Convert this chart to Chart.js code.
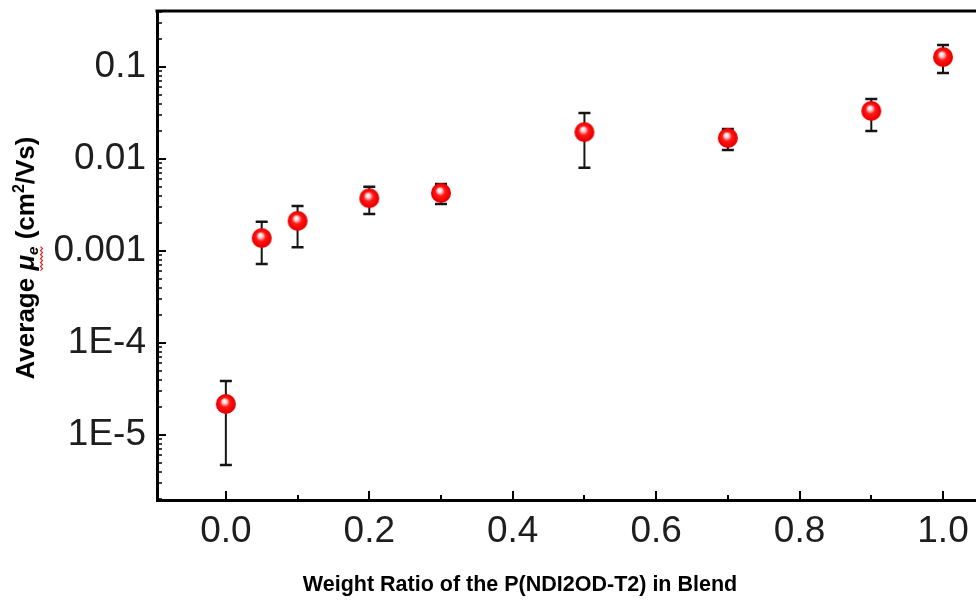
<!DOCTYPE html>
<html>
<head>
<meta charset="utf-8">
<script src="https://cdn.jsdelivr.net/npm/chart.js@4/dist/chart.umd.min.js"></script>
<style>
body{margin:0;background:#fff;}
#wrap{width:976px;height:602px;position:relative;}
</style>
</head>
<body>
<div id="wrap"><canvas id="chartMobility" width="976" height="602"></canvas></div>
<script>
// weight ratio of P(NDI2OD-T2) in the blend
const ratios = [0, 0.05, 0.1, 0.2, 0.3, 0.5, 0.7, 0.9, 1.0]
// average electron mobility, cm2/Vs
const mobility = [2.17e-5, 1.38e-3, 2.12e-3, 3.74e-3, 4.27e-3, 0.0196, 0.0169, 0.0333, 0.128]
const errUpper = [3.86e-5, 2.07e-3, 3.08e-3, 5.0e-3, 5.35e-3, 0.0316, 0.0212, 0.0449, 0.173]
const errLower = [4.72e-6, 7.2e-4, 1.1e-3, 2.52e-3, 3.24e-3, 0.008, 0.0125, 0.0201, 0.086]

const xTicks = [0, 0.2, 0.4, 0.6, 0.8, 1.0]
const xMinorTicks = [0.1, 0.3, 0.5, 0.7, 0.9]
const yTicks = [1e-5, 1e-4, 1e-3, 1e-2, 1e-1]
const yTickLabels = ['1E-5', '1E-4', '0.001', '0.01', '0.1']

const FONT = "'Liberation Sans', Arial, sans-serif"

// red shiny ball used as point marker
function makeBall(r){
  const c = document.createElement('canvas')
  c.width = c.height = 2*r+2
  const g = c.getContext('2d')
  const cx = r+1, cy = r+1
  const grad = g.createRadialGradient(cx-1.5, cy-3, 0.5, cx, cy, r)
  grad.addColorStop(0, '#ffffff')
  grad.addColorStop(0.18, '#ffd0d0')
  grad.addColorStop(0.45, '#ff1a1a')
  grad.addColorStop(0.85, '#f00000')
  grad.addColorStop(1, '#e00000')
  g.fillStyle = grad
  g.beginPath(); g.arc(cx, cy, r, 0, Math.PI*2); g.fill()
  return c
}

// no extra room around the plot for tick labels
function noPad(s){
  s.paddingTop = 0; s.paddingBottom = 0; s.paddingLeft = 0; s.paddingRight = 0
}

const errorBarsPlugin = {
  id: 'errorBars',
  beforeDatasetsDraw(chart){
    const {ctx, scales:{x, y}} = chart
    ctx.save()
    ctx.strokeStyle = '#151515'
    for(let i=0;i<ratios.length;i++){
      const px = x.getPixelForValue(ratios[i])
      const pTop = y.getPixelForValue(errUpper[i])
      const pBot = y.getPixelForValue(errLower[i])
      ctx.lineWidth = 2
      ctx.beginPath(); ctx.moveTo(px, pTop); ctx.lineTo(px, pBot); ctx.stroke()
      ctx.lineWidth = 2.5
      ctx.beginPath()
      ctx.moveTo(px-6, pTop); ctx.lineTo(px+6, pTop)
      ctx.moveTo(px-6, pBot); ctx.lineTo(px+6, pBot)
      ctx.stroke()
    }
    ctx.restore()
  }
}

const frameTicksPlugin = {
  id: 'frameTicks',
  afterDraw(chart){
    const {ctx, chartArea:a, scales:{x, y}} = chart
    ctx.save()
    ctx.strokeStyle = '#000'
    // top frame line
    ctx.lineWidth = 3
    ctx.beginPath(); ctx.moveTo(a.left-1.5, a.top); ctx.lineTo(a.right, a.top); ctx.stroke()
    // inward ticks on x
    ctx.lineWidth = 2
    xTicks.forEach(v => {
      const px = Math.round(x.getPixelForValue(v))
      ctx.beginPath(); ctx.moveTo(px, a.bottom); ctx.lineTo(px, a.bottom-9); ctx.stroke()
    })
    xMinorTicks.forEach(v => {
      const px = Math.round(x.getPixelForValue(v))
      ctx.beginPath(); ctx.moveTo(px, a.bottom); ctx.lineTo(px, a.bottom-5); ctx.stroke()
    })
    // inward ticks on y (log, with minors)
    yTicks.forEach(v => {
      const py = Math.round(y.getPixelForValue(v))
      ctx.lineWidth = 2
      ctx.beginPath(); ctx.moveTo(a.left, py); ctx.lineTo(a.left+9, py); ctx.stroke()
    })
    ctx.lineWidth = 1.5
    for(let d=-6; d<=-1; d++){
      for(let m=2; m<=9; m++){
        const v = m*Math.pow(10, d)
        if(v < y.min || v > y.max) continue
        const py = Math.round(y.getPixelForValue(v))
        ctx.beginPath(); ctx.moveTo(a.left, py); ctx.lineTo(a.left+5, py); ctx.stroke()
      }
    }
    ctx.restore()
  }
}

const axisTitlesPlugin = {
  id: 'axisTitles',
  afterDraw(chart){
    const ctx = chart.ctx
    ctx.save()
    ctx.fillStyle = '#000'
    ctx.textBaseline = 'alphabetic'
    // x title
    ctx.font = `bold 21.5px ${FONT}`
    ctx.textAlign = 'center'
    ctx.fillText('Weight Ratio of the P(NDI2OD-T2) in Blend', 520, 591)
    // y title, rotated, drawn in pieces
    const parts = [
      {t:'Average ', f:`bold 26px ${FONT}`, dy:0},
      {t:'\u03bc', f:`italic bold 26px ${FONT}`, dy:0, sq:true},
      {t:'e', f:`italic bold 15px ${FONT}`, dy:4, sq:true},
      {t:' (cm', f:`bold 26px ${FONT}`, dy:0},
      {t:'2', f:`bold 16px ${FONT}`, dy:-10},
      {t:'/Vs)', f:`bold 26px ${FONT}`, dy:0}
    ]
    let total = 0
    parts.forEach(p => { ctx.font = p.f; p.w = ctx.measureText(p.t).width; total += p.w })
    ctx.translate(34, 258)
    ctx.rotate(-Math.PI/2)
    ctx.textAlign = 'left'
    let cx = -total/2
    let sqStart = null, sqEnd = null
    parts.forEach(p => {
      ctx.font = p.f
      ctx.fillText(p.t, cx, p.dy)
      if(p.sq){ if(sqStart===null) sqStart = cx; sqEnd = cx + p.w }
      cx += p.w
    })
    // red wavy underline under the symbol
    ctx.strokeStyle = '#e02020'
    ctx.lineWidth = 1.2
    ctx.beginPath()
    let k = 0
    for(let sx = sqStart; sx <= sqEnd; sx += 2){
      const sy = 7 + (k%2 ? 1.5 : -0.5)
      if(k===0) ctx.moveTo(sx, sy); else ctx.lineTo(sx, sy)
      k++
    }
    ctx.stroke()
    ctx.restore()
  }
}

const chartMobility = new Chart(
  document.getElementById('chartMobility'),
  {
    type: 'scatter',
    data: {
      datasets: [{
        data: ratios.map((r, i) => ({x: r, y: mobility[i]})),
        pointStyle: makeBall(10),
        pointRadius: 10,
        pointHoverRadius: 10
      }]
    },
    options: {
      responsive: false,
      animation: false,
      layout: {autoPadding: false, padding: {top: 11, right: 0, left: 0, bottom: 0}},
      plugins: {
        legend: {display: false},
        tooltip: {enabled: false}
      },
      scales: {
        x: {
          type: 'linear',
          min: -0.096,
          max: 1.046,
          afterBuildTicks: s => { s.ticks = xTicks.map(v => ({value: v})) },
          afterFit: s => { s.height = 102; noPad(s) },
          grid: {drawOnChartArea: false, drawTicks: false},
          border: {display: true, color: '#000', width: 3},
          ticks: {
            padding: 10,
            color: '#1e1e1e',
            font: {family: FONT, size: 37},
            maxRotation: 0,
            autoSkip: false,
            callback: v => Number(v).toFixed(1)
          }
        },
        y: {
          type: 'logarithmic',
          min: 1.96e-6,
          max: 0.406,
          afterBuildTicks: s => { s.ticks = yTicks.map(v => ({value: v})) },
          afterFit: s => { s.width = 157; noPad(s) },
          grid: {drawOnChartArea: false, drawTicks: false},
          border: {display: true, color: '#000', width: 3},
          ticks: {
            padding: 11,
            color: '#1e1e1e',
            font: {family: FONT, size: 37},
            autoSkip: false,
            callback: (v) => {
              const i = yTicks.findIndex(t => Math.abs(t - v)/t < 1e-6)
              return i >= 0 ? yTickLabels[i] : ''
            }
          }
        }
      }
    },
    plugins: [errorBarsPlugin, frameTicksPlugin, axisTitlesPlugin]
  }
)
</script>
</body>
</html>
